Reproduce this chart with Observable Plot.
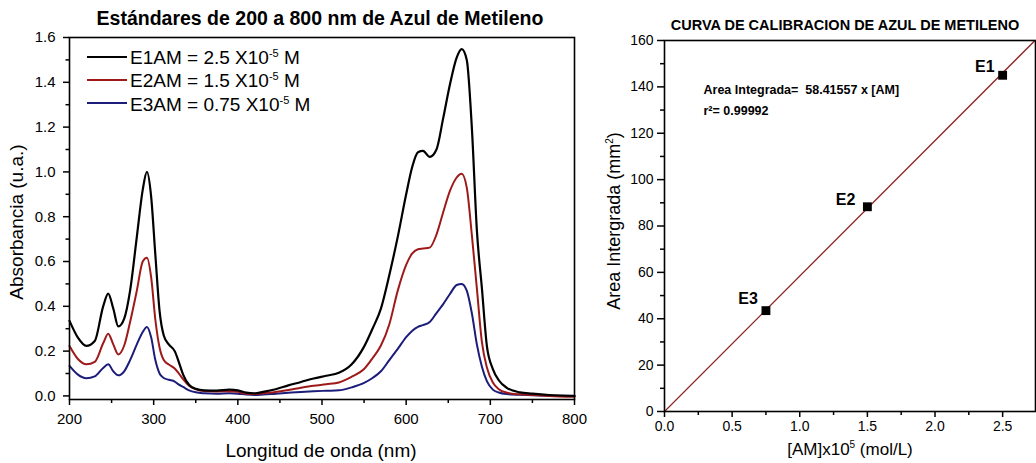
<!DOCTYPE html>
<html><head><meta charset="utf-8">
<script src="https://cdn.jsdelivr.net/npm/d3@7"></script>
<script src="https://cdn.jsdelivr.net/npm/@observablehq/plot@0.6"></script>
<style>
body{margin:0;background:#fff;}
#wrap{position:relative;width:1036px;height:463px;overflow:hidden;font-family:"Liberation Sans",Arial,sans-serif;color:#000;background:#fff;}
#wrap svg{position:absolute;top:0;}
.abs{position:absolute;line-height:1;white-space:nowrap;}
.c{transform:translate(-50%,-50%);}
.rot{transform:translate(-50%,-50%) rotate(-90deg);}
.sup{position:relative;top:-7px;font-size:11px;}
.sup2{position:relative;top:-7px;font-size:10px;}
.lg{position:absolute;left:87px;width:40px;height:0;border-top:2px solid #000;}
</style></head><body><div id="wrap"></div>
<script>
// ---------- Data: spectra ----------
const wavelength = [200,210,220,230,240,246,252,258,265,272,280,287,292,297,302,307,312,318,325,330,335,342,350,360,375,390,400,410,420,430,445,460,475,490,505,520,535,550,560,570,580,590,600,607,614,620,628,636,644,652,660,666,672,678,684,690,696,703,710,720,735,750,770,800];
const absE1 = [0.335,0.26,0.223,0.245,0.40,0.457,0.39,0.31,0.345,0.47,0.71,0.92,1.00,0.89,0.63,0.38,0.27,0.23,0.20,0.15,0.095,0.05,0.032,0.025,0.024,0.028,0.025,0.015,0.012,0.018,0.03,0.047,0.062,0.078,0.09,0.103,0.14,0.22,0.30,0.39,0.54,0.71,0.90,1.02,1.088,1.094,1.067,1.10,1.24,1.39,1.51,1.548,1.50,1.20,0.74,0.48,0.22,0.12,0.07,0.035,0.016,0.01,0.004,0.0];
const absE2 = [0.223,0.165,0.141,0.152,0.235,0.278,0.23,0.185,0.225,0.33,0.47,0.60,0.617,0.53,0.34,0.216,0.16,0.14,0.122,0.10,0.075,0.045,0.03,0.022,0.02,0.021,0.018,0.01,0.008,0.012,0.018,0.026,0.036,0.045,0.052,0.06,0.085,0.12,0.168,0.225,0.32,0.47,0.585,0.635,0.655,0.658,0.662,0.72,0.82,0.915,0.975,0.992,0.93,0.72,0.48,0.24,0.126,0.06,0.03,0.014,0.007,0.004,0.0,-0.004];
const absE3 = [0.134,0.095,0.079,0.087,0.125,0.141,0.11,0.092,0.11,0.16,0.23,0.285,0.308,0.262,0.16,0.10,0.08,0.072,0.064,0.05,0.04,0.025,0.016,0.012,0.01,0.012,0.01,0.006,0.004,0.006,0.01,0.014,0.018,0.021,0.023,0.025,0.038,0.058,0.08,0.11,0.16,0.21,0.262,0.29,0.308,0.316,0.33,0.37,0.41,0.455,0.495,0.50,0.47,0.37,0.23,0.13,0.065,0.028,0.015,0.008,0.005,0.003,0.001,0.0];
const seriesNames = ["E1AM","E2AM","E3AM"];
const seriesConc = ["2.5","1.5","0.75"];
const spectraYTicks = [0,0.2,0.4,0.6,0.8,1.0,1.2,1.4,1.6];
const spectraYMinor = [0.1,0.3,0.5,0.7,0.9,1.1,1.3,1.5];
const spectraXTicks = [200,300,400,500,600,700,800];
const spectraXMinor = [250,350,450,550,650,750];

// ---------- Data: calibration ----------
const standardLabels = ["E3","E2","E1"];
const concentration = [0.75,1.5,2.5];
const integratedArea = [43.5,88.3,145];
const fitSlope = 58.41557;
const fitR2 = "0.99992";
const fitRange = [0, 2.75];
const calibXTicks = [0,0.5,1.0,1.5,2.0,2.5];
const calibXMinor = [0.25,0.75,1.25,1.75,2.25];
const calibYTicks = [0,20,40,60,80,100,120,140,160];
const calibYMinor = [10,30,50,70,90,110,130,150];

// ---------- Build ----------
const FONT = '"Liberation Sans", Arial, sans-serif';
const colors = ["#000000","#9e1a1a","#1c1c7a"];
const spectra = [absE1,absE2,absE3].map(arr => wavelength.map((nm,i)=>({nm, a: arr[i]})));
const calib = standardLabels.map((l,i)=>({label:l, c:concentration[i], area:integratedArea[i]}));
const fit = fitRange.map(c=>({c, area: fitSlope*c}));

const wrap = document.getElementById("wrap");

const left = Plot.plot({
  width: 600, height: 463,
  marginLeft: 69, marginRight: 26, marginTop: 37, marginBottom: 64,
  x: {domain: [200,800]},
  y: {domain: [-0.016,1.6]},
  style: {fontFamily: FONT, background: "transparent", color: "#000", overflow: "visible"},
  marks: [
    Plot.line(spectra[2], {x:"nm", y:"a", stroke: colors[2], strokeWidth: 2, curve: "monotone-x"}),
    Plot.line(spectra[1], {x:"nm", y:"a", stroke: colors[1], strokeWidth: 2, curve: "monotone-x"}),
    Plot.line(spectra[0], {x:"nm", y:"a", stroke: colors[0], strokeWidth: 2.2, curve: "monotone-x"}),
    Plot.frame({stroke:"#000", strokeWidth: 1.6}),
    Plot.axisY({ticks: spectraYTicks, tickFormat: d3.format(".1f"), tickSize: 6, tickPadding: 8, fontSize: 15, label: null, strokeWidth: 1.5}),
    Plot.axisY({ticks: spectraYMinor, tickFormat: () => "", tickSize: 3.5, label: null, strokeWidth: 1.5}),
    Plot.axisX({ticks: spectraXTicks, tickFormat: d3.format("d"), tickSize: 6, tickPadding: 8, fontSize: 15, label: null, strokeWidth: 1.5}),
    Plot.axisX({ticks: spectraXMinor, tickFormat: () => "", tickSize: 4, label: null, strokeWidth: 1.5})
  ]
});
left.style.left = "0px";
wrap.appendChild(left);

const right = Plot.plot({
  width: 436, height: 463,
  marginLeft: 64, marginRight: 1, marginTop: 40, marginBottom: 52,
  x: {domain: [0,2.743]},
  y: {domain: [0,160]},
  style: {fontFamily: FONT, background: "transparent", color: "#000", overflow: "visible"},
  marks: [
    Plot.line(fit, {x:"c", y:"area", stroke:"#8e2424", strokeWidth: 1.3, clip: true}),
    Plot.dot(calib, {x:"c", y:"area", symbol:"square", r: 5, fill:"#000", stroke:"none"}),
    Plot.text(calib.filter(d=>d.label==="E1"), {x:"c", y:"area", text:"label", textAnchor:"end", dx:-8, dy:-8, fontSize:16, fontWeight:"bold"}),
    Plot.text(calib.filter(d=>d.label==="E2"), {x:"c", y:"area", text:"label", textAnchor:"end", dx:-12, dy:-7, fontSize:16, fontWeight:"bold"}),
    Plot.text(calib.filter(d=>d.label==="E3"), {x:"c", y:"area", text:"label", textAnchor:"end", dx:-8, dy:-12, fontSize:16, fontWeight:"bold"}),
    Plot.text([`Area Integrada=  ${fitSlope} x [AM]`], {text: d=>d, frameAnchor:"top-left", textAnchor:"start", dx: 39, dy: 45, fontSize: 12.5, fontWeight:"bold"}),
    Plot.text([`r\u00B2= ${fitR2}`], {text: d=>d, frameAnchor:"top-left", textAnchor:"start", dx: 39, dy: 66, fontSize: 12.5, fontWeight:"bold"}),
    Plot.frame({stroke:"#000", strokeWidth: 1.6}),
    Plot.axisY({ticks: calibYTicks, tickFormat: d3.format("d"), tickSize: 7, tickPadding: 4, fontSize: 14, label: null, strokeWidth: 1.5}),
    Plot.axisY({ticks: calibYMinor, tickFormat: () => "", tickSize: 4, label: null, strokeWidth: 1.5}),
    Plot.axisX({ticks: calibXTicks, tickFormat: d3.format(".1f"), tickSize: 6, tickPadding: 4, fontSize: 14, label: null, strokeWidth: 1.5}),
    Plot.axisX({ticks: calibXMinor, tickFormat: () => "", tickSize: 4, label: null, strokeWidth: 1.5})
  ]
});
right.style.left = "600px";
wrap.appendChild(right);

// ---------- Text (titles, labels, legend) ----------
function addDiv(html, cls, style){
  const d = document.createElement("div");
  d.className = "abs " + cls;
  d.innerHTML = html;
  Object.assign(d.style, style);
  wrap.appendChild(d);
  return d;
}
addDiv("Estándares de 200 a 800 nm de Azul de Metileno", "c", {left:"320px", top:"19px", fontSize:"19.5px", fontWeight:"bold"});
addDiv("Absorbancia (u.a.)", "rot", {left:"16px", top:"222px", fontSize:"19px"});
addDiv("Longitud de onda (nm)", "c", {left:"321px", top:"450px", fontSize:"19px"});
addDiv("CURVA DE CALIBRACION DE AZUL DE METILENO", "c", {left:"845px", top:"25px", fontSize:"14.5px", fontWeight:"bold"});
addDiv('Area Intergrada (mm<span class="sup2">2</span>)', "rot", {left:"614px", top:"221px", fontSize:"18px"});
addDiv('[AM]x10<span class="sup2">5</span> (mol/L)', "c", {left:"850px", top:"449px", fontSize:"17px"});

// legend
const rowBase = [64, 87.3, 110.7];
seriesNames.forEach((n,i)=>{
  const ln = document.createElement("div");
  ln.className = "lg";
  ln.style.top = (rowBase[i] - 8.3) + "px";
  ln.style.borderTopColor = colors[i];
  wrap.appendChild(ln);
  addDiv(`${n} = ${seriesConc[i]} X10<span class="sup">-5</span> M`, "", {left:"130px", top:(rowBase[i]-16.1)+"px", fontSize:"19px"});
});
</script>
</body></html>
